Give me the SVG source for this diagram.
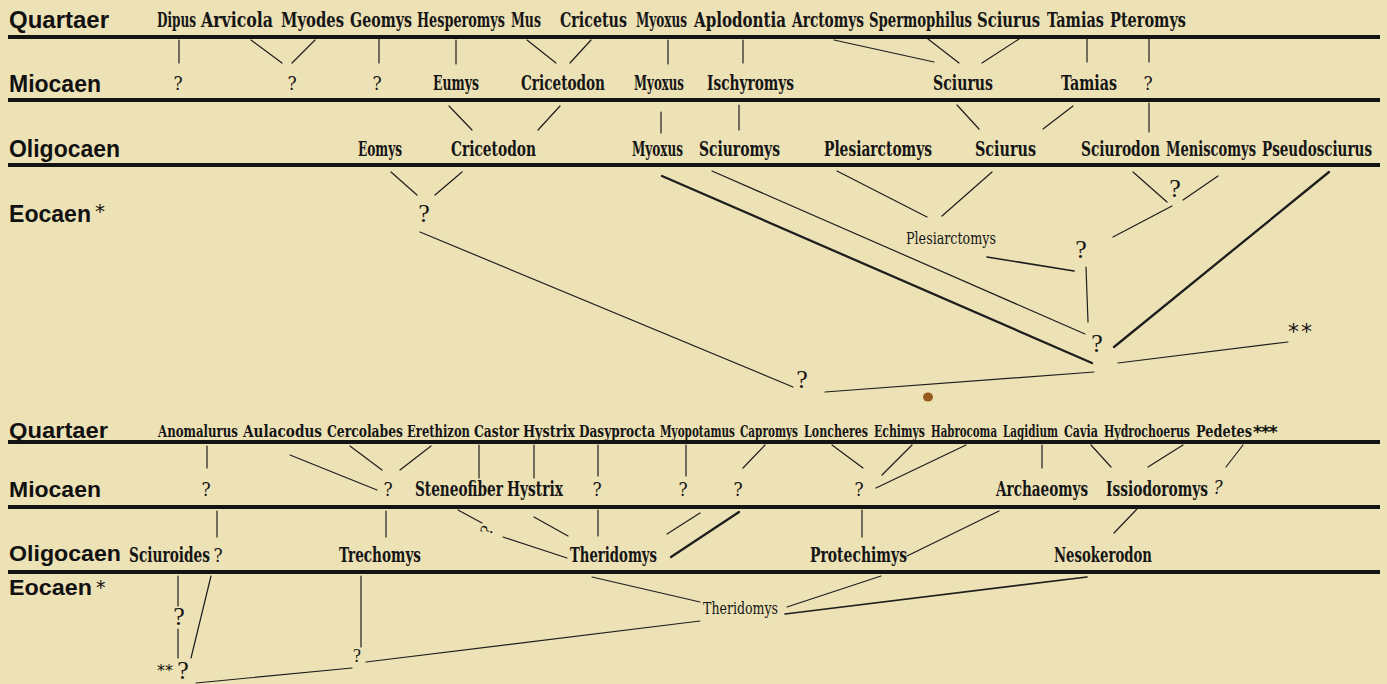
<svg xmlns="http://www.w3.org/2000/svg" width="1387" height="684" viewBox="0 0 1387 684">
<style>
.bg{fill:#ede2b5}
.bar{stroke:#141414;stroke-width:4}
.ln{stroke:#1e1e1e;stroke-width:1.2;fill:none;stroke-linecap:round}
.tk{stroke-width:2.3}
.md{stroke-width:1.7}
.era{font-family:"Liberation Sans",Arial,sans-serif;font-weight:bold;font-size:24px;fill:#111}
.era2{font-family:"Liberation Sans",Arial,sans-serif;font-weight:bold;font-size:22px;fill:#111}
.star{font-family:"DejaVu Sans","Liberation Sans",sans-serif;fill:#111}
.t{font-family:"DejaVu Serif Condensed","DejaVu Serif","Liberation Serif",serif;font-weight:bold;font-size:20px;fill:#151515}
.t2{font-family:"DejaVu Serif Condensed","DejaVu Serif","Liberation Serif",serif;font-weight:bold;font-size:16.5px;fill:#151515}
.t3{font-family:"DejaVu Serif Condensed","DejaVu Serif","Liberation Serif",serif;font-weight:bold;font-size:19.5px;fill:#151515}
.s{font-family:"DejaVu Serif Condensed","DejaVu Serif","Liberation Serif",serif;font-size:16px;fill:#151515}
.qm{font-family:"DejaVu Serif Condensed","DejaVu Serif","Liberation Serif",serif;font-size:19px;fill:#151515;text-anchor:middle}
.qb{font-family:"Liberation Serif","Times New Roman",serif;font-size:26px;fill:#151515;text-anchor:middle}
.qsm{font-family:"Liberation Serif","Times New Roman",serif;font-size:18px;fill:#151515;text-anchor:middle}
</style>
<rect class="bg" x="0" y="0" width="1387" height="684"/>

<g id="bars">
<line class="bar" x1="8" y1="37" x2="1380" y2="37"/>
<line class="bar" x1="8" y1="100" x2="1380" y2="100"/>
<line class="bar" x1="8" y1="165" x2="1380" y2="165"/>
<line class="bar" x1="8" y1="442" x2="1380" y2="442"/>
<line class="bar" x1="8" y1="507" x2="1380" y2="507"/>
<line class="bar" x1="8" y1="572" x2="1380" y2="572"/>
</g>

<g id="era-labels">
<text class="era" x="9" y="28" textLength="100" lengthAdjust="spacingAndGlyphs">Quartaer</text>
<text class="era" x="9" y="92" textLength="92" lengthAdjust="spacingAndGlyphs">Miocaen</text>
<text class="era" x="9" y="157" textLength="111" lengthAdjust="spacingAndGlyphs">Oligocaen</text>
<text class="era" x="9" y="222" textLength="82" lengthAdjust="spacingAndGlyphs">Eocaen</text>
<text class="star" x="95" y="218" font-size="20">*</text>
<text class="era2" x="9" y="438" textLength="99" lengthAdjust="spacingAndGlyphs">Quartaer</text>
<text class="era2" x="9" y="497" textLength="92" lengthAdjust="spacingAndGlyphs">Miocaen</text>
<text class="era2" x="9" y="561" textLength="112" lengthAdjust="spacingAndGlyphs">Oligocaen</text>
<text class="era2" x="9" y="595" textLength="83" lengthAdjust="spacingAndGlyphs">Eocaen</text>
<text class="star" x="96" y="594" font-size="19">*</text>
</g>

<g id="connectors">
<line class="ln" x1="179" y1="40" x2="179" y2="63"/>
<line class="ln" x1="251" y1="40" x2="282" y2="63"/>
<line class="ln" x1="315" y1="40" x2="292" y2="63"/>
<line class="ln" x1="379" y1="38" x2="379" y2="63"/>
<line class="ln" x1="456" y1="40" x2="456" y2="64"/>
<line class="ln" x1="527" y1="40" x2="556" y2="63"/>
<line class="ln" x1="591" y1="40" x2="570" y2="63"/>
<line class="ln" x1="668" y1="40" x2="668" y2="64"/>
<line class="ln" x1="743" y1="40" x2="743" y2="63"/>
<line class="ln" x1="834" y1="40" x2="934" y2="62"/>
<line class="ln" x1="928" y1="39" x2="959" y2="63"/>
<line class="ln" x1="1019" y1="39" x2="982" y2="63"/>
<line class="ln" x1="1087" y1="39" x2="1087" y2="62"/>
<line class="ln" x1="1149" y1="39" x2="1149" y2="62"/>
<line class="ln" x1="449" y1="106" x2="472" y2="130"/>
<line class="ln" x1="560" y1="106" x2="538" y2="130"/>
<line class="ln" x1="661" y1="112" x2="661" y2="133"/>
<line class="ln" x1="739" y1="105" x2="739" y2="130"/>
<line class="ln" x1="957" y1="105" x2="979" y2="129"/>
<line class="ln" x1="1073" y1="106" x2="1043" y2="129"/>
<line class="ln" x1="1149" y1="103" x2="1149" y2="132"/>
<line class="ln" x1="391" y1="172" x2="417" y2="195"/>
<line class="ln" x1="462" y1="172" x2="435" y2="195"/>
<line class="ln" x1="420" y1="232" x2="793" y2="387"/>
<line class="ln" x1="825" y1="392" x2="1094" y2="372"/>
<line class="ln tk" x1="662" y1="176" x2="1092" y2="363"/>
<line class="ln" x1="712" y1="171" x2="1085" y2="334"/>
<line class="ln" x1="837" y1="171" x2="927" y2="217"/>
<line class="ln" x1="992" y1="172" x2="942" y2="216"/>
<line class="ln md" x1="987" y1="257" x2="1074" y2="271"/>
<line class="ln" x1="1086" y1="267" x2="1088" y2="322"/>
<line class="ln" x1="1133" y1="172" x2="1167" y2="202"/>
<line class="ln" x1="1218" y1="176" x2="1183" y2="200"/>
<line class="ln" x1="1172" y1="206" x2="1113" y2="237"/>
<line class="ln tk" x1="1329" y1="172" x2="1114" y2="347"/>
<line class="ln" x1="1288" y1="342" x2="1118" y2="363"/>
<line class="ln" x1="207" y1="446" x2="207" y2="468"/>
<line class="ln" x1="290" y1="455" x2="377" y2="490"/>
<line class="ln" x1="350" y1="446" x2="382" y2="470"/>
<line class="ln" x1="431" y1="446" x2="400" y2="470"/>
<line class="ln" x1="479" y1="445" x2="479" y2="478"/>
<line class="ln" x1="534" y1="445" x2="534" y2="478"/>
<line class="ln" x1="598" y1="445" x2="598" y2="476"/>
<line class="ln" x1="686" y1="445" x2="686" y2="476"/>
<line class="ln" x1="765" y1="445" x2="743" y2="468"/>
<line class="ln" x1="832" y1="445" x2="863" y2="468"/>
<line class="ln" x1="912" y1="445" x2="882" y2="475"/>
<line class="ln" x1="966" y1="445" x2="876" y2="488"/>
<line class="ln" x1="1042" y1="445" x2="1042" y2="468"/>
<line class="ln" x1="1091" y1="445" x2="1111" y2="467"/>
<line class="ln" x1="1183" y1="445" x2="1148" y2="467"/>
<line class="ln" x1="1243" y1="445" x2="1226" y2="467"/>
<line class="ln" x1="217" y1="511" x2="217" y2="537"/>
<line class="ln" x1="386" y1="511" x2="386" y2="537"/>
<line class="ln" x1="458" y1="510" x2="482" y2="523"/>
<line class="ln" x1="503" y1="537" x2="567" y2="558"/>
<line class="ln" x1="534" y1="517" x2="568" y2="536"/>
<line class="ln" x1="598" y1="510" x2="598" y2="536"/>
<line class="ln" x1="700" y1="513" x2="667" y2="534"/>
<line class="ln tk" x1="739" y1="512" x2="671" y2="557"/>
<line class="ln" x1="862" y1="510" x2="862" y2="537"/>
<line class="ln" x1="999" y1="511" x2="907" y2="556"/>
<line class="ln" x1="1137" y1="509" x2="1114" y2="533"/>
<line class="ln" x1="178" y1="576" x2="178" y2="606"/>
<line class="ln" x1="178" y1="629" x2="178" y2="658"/>
<line class="ln" x1="211" y1="576" x2="191" y2="658"/>
<line class="ln" x1="361" y1="576" x2="361" y2="647"/>
<line class="ln" x1="196" y1="683" x2="352" y2="668"/>
<line class="ln" x1="366" y1="662" x2="700" y2="621"/>
<line class="ln" x1="592" y1="577" x2="700" y2="602"/>
<line class="ln" x1="881" y1="576" x2="787" y2="607"/>
<line class="ln md" x1="1087" y1="577" x2="785" y2="614"/>
</g>

<g id="upper-quartaer">
<g id="n-dipus"><text class="t" x="157" y="27" textLength="39" lengthAdjust="spacingAndGlyphs">Dipus</text></g>
<g id="n-arvicola"><text class="t" x="201" y="27" textLength="72" lengthAdjust="spacingAndGlyphs">Arvicola</text></g>
<g id="n-myodes"><text class="t" x="281" y="27" textLength="63" lengthAdjust="spacingAndGlyphs">Myodes</text></g>
<g id="n-geomys"><text class="t" x="350" y="27" textLength="62" lengthAdjust="spacingAndGlyphs">Geomys</text></g>
<g id="n-hesperomys"><text class="t" x="417" y="27" textLength="88" lengthAdjust="spacingAndGlyphs">Hesperomys</text></g>
<g id="n-mus"><text class="t" x="511" y="27" textLength="30" lengthAdjust="spacingAndGlyphs">Mus</text></g>
<g id="n-cricetus"><text class="t" x="560" y="27" textLength="67" lengthAdjust="spacingAndGlyphs">Cricetus</text></g>
<g id="n-myoxus-q"><text class="t" x="636" y="27" textLength="51" lengthAdjust="spacingAndGlyphs">Myoxus</text></g>
<g id="n-aplodontia"><text class="t" x="694" y="27" textLength="92" lengthAdjust="spacingAndGlyphs">Aplodontia</text></g>
<g id="n-arctomys"><text class="t" x="792" y="27" textLength="72" lengthAdjust="spacingAndGlyphs">Arctomys</text></g>
<g id="n-spermophilus"><text class="t" x="869" y="27" textLength="103" lengthAdjust="spacingAndGlyphs">Spermophilus</text></g>
<g id="n-sciurus-q"><text class="t" x="977" y="27" textLength="63" lengthAdjust="spacingAndGlyphs">Sciurus</text></g>
<g id="n-tamias-q"><text class="t" x="1047" y="27" textLength="57" lengthAdjust="spacingAndGlyphs">Tamias</text></g>
<g id="n-pteromys"><text class="t" x="1110" y="27" textLength="76" lengthAdjust="spacingAndGlyphs">Pteromys</text></g>
</g>

<g id="upper-miocaen">
<g id="n-m-q1"><text class="qm" x="178" y="90">?</text></g>
<g id="n-m-q2"><text class="qm" x="292" y="90">?</text></g>
<g id="n-m-q3"><text class="qm" x="377" y="90">?</text></g>
<g id="n-eumys"><text class="t" x="433" y="90" textLength="46" lengthAdjust="spacingAndGlyphs">Eumys</text></g>
<g id="n-cricetodon-m"><text class="t" x="521" y="90" textLength="84" lengthAdjust="spacingAndGlyphs">Cricetodon</text></g>
<g id="n-myoxus-m"><text class="t" x="634" y="90" textLength="50" lengthAdjust="spacingAndGlyphs">Myoxus</text></g>
<g id="n-ischyromys"><text class="t" x="707" y="90" textLength="87" lengthAdjust="spacingAndGlyphs">Ischyromys</text></g>
<g id="n-sciurus-m"><text class="t" x="933" y="90" textLength="60" lengthAdjust="spacingAndGlyphs">Sciurus</text></g>
<g id="n-tamias-m"><text class="t" x="1061" y="90" textLength="56" lengthAdjust="spacingAndGlyphs">Tamias</text></g>
<g id="n-m-q4"><text class="qm" x="1148" y="90">?</text></g>
</g>

<g id="upper-oligocaen">
<g id="n-eomys"><text class="t" x="358" y="156" textLength="44" lengthAdjust="spacingAndGlyphs">Eomys</text></g>
<g id="n-cricetodon-o"><text class="t" x="451" y="156" textLength="85" lengthAdjust="spacingAndGlyphs">Cricetodon</text></g>
<g id="n-myoxus-o"><text class="t" x="632" y="156" textLength="51" lengthAdjust="spacingAndGlyphs">Myoxus</text></g>
<g id="n-sciuromys"><text class="t" x="699" y="156" textLength="81" lengthAdjust="spacingAndGlyphs">Sciuromys</text></g>
<g id="n-plesiarctomys-o"><text class="t" x="824" y="156" textLength="108" lengthAdjust="spacingAndGlyphs">Plesiarctomys</text></g>
<g id="n-sciurus-o"><text class="t" x="975" y="156" textLength="61" lengthAdjust="spacingAndGlyphs">Sciurus</text></g>
<g id="n-sciurodon"><text class="t" x="1081" y="156" textLength="79" lengthAdjust="spacingAndGlyphs">Sciurodon</text></g>
<g id="n-meniscomys"><text class="t" x="1166" y="156" textLength="90" lengthAdjust="spacingAndGlyphs">Meniscomys</text></g>
<g id="n-pseudosciurus"><text class="t" x="1262" y="156" textLength="110" lengthAdjust="spacingAndGlyphs">Pseudosciurus</text></g>
</g>

<g id="upper-eocaen">
<g id="n-e-q1"><text class="qb" x="424" y="222">?</text></g>
<g id="n-e-q2"><text class="qb" x="1175" y="197">?</text></g>
<g id="n-plesiarctomys-e"><text class="s" x="906" y="244" textLength="90" lengthAdjust="spacingAndGlyphs">Plesiarctomys</text></g>
<g id="n-e-q3"><text class="qb" x="1081" y="258">?</text></g>
<g id="n-e-q4"><text class="qb" x="1097" y="352">?</text></g>
<g id="n-e-q5"><text class="qb" x="802" y="388">?</text></g>
<g id="n-e-stars"><text class="star" x="1288" y="339" font-size="22" letter-spacing="2">**</text></g>
</g>

<g id="lower-quartaer">
<g id="n-anomalurus"><text class="t2" x="158" y="437" textLength="80" lengthAdjust="spacingAndGlyphs">Anomalurus</text></g>
<g id="n-aulacodus"><text class="t2" x="243" y="437" textLength="79" lengthAdjust="spacingAndGlyphs">Aulacodus</text></g>
<g id="n-cercolabes"><text class="t2" x="327" y="437" textLength="76" lengthAdjust="spacingAndGlyphs">Cercolabes</text></g>
<g id="n-erethizon"><text class="t2" x="407" y="437" textLength="63" lengthAdjust="spacingAndGlyphs">Erethizon</text></g>
<g id="n-castor"><text class="t2" x="474" y="437" textLength="45" lengthAdjust="spacingAndGlyphs">Castor</text></g>
<g id="n-hystrix-q"><text class="t2" x="523" y="437" textLength="52" lengthAdjust="spacingAndGlyphs">Hystrix</text></g>
<g id="n-dasyprocta"><text class="t2" x="579" y="437" textLength="76" lengthAdjust="spacingAndGlyphs">Dasyprocta</text></g>
<g id="n-myopotamus"><text class="t2" x="660" y="437" textLength="75" lengthAdjust="spacingAndGlyphs">Myopotamus</text></g>
<g id="n-capromys"><text class="t2" x="740" y="437" textLength="58" lengthAdjust="spacingAndGlyphs">Capromys</text></g>
<g id="n-loncheres"><text class="t2" x="804" y="437" textLength="64" lengthAdjust="spacingAndGlyphs">Loncheres</text></g>
<g id="n-echimys"><text class="t2" x="874" y="437" textLength="51" lengthAdjust="spacingAndGlyphs">Echimys</text></g>
<g id="n-habrocoma"><text class="t2" x="931" y="437" textLength="66" lengthAdjust="spacingAndGlyphs">Habrocoma</text></g>
<g id="n-lagidium"><text class="t2" x="1003" y="437" textLength="55" lengthAdjust="spacingAndGlyphs">Lagidium</text></g>
<g id="n-cavia"><text class="t2" x="1064" y="437" textLength="34" lengthAdjust="spacingAndGlyphs">Cavia</text></g>
<g id="n-hydrochoerus"><text class="t2" x="1104" y="437" textLength="86" lengthAdjust="spacingAndGlyphs">Hydrochoerus</text></g>
<g id="n-pedetes"><text class="t2" x="1196" y="437" textLength="56" lengthAdjust="spacingAndGlyphs">Pedetes</text><text class="star" x="1253" y="438" font-size="17" font-weight="bold" letter-spacing="-1">***</text></g>
</g>

<g id="lower-miocaen">
<g id="n-lm-q1"><text class="qm" x="206" y="496">?</text></g>
<g id="n-lm-q2"><text class="qm" x="388" y="496">?</text></g>
<g id="n-steneofiber"><text class="t3" x="415" y="496" textLength="88" lengthAdjust="spacingAndGlyphs">Steneofiber</text></g>
<g id="n-hystrix-m"><text class="t3" x="507" y="496" textLength="56" lengthAdjust="spacingAndGlyphs">Hystrix</text></g>
<g id="n-lm-q3"><text class="qm" x="597" y="496">?</text></g>
<g id="n-lm-q4"><text class="qm" x="683" y="496">?</text></g>
<g id="n-lm-q5"><text class="qm" x="738" y="496">?</text></g>
<g id="n-lm-q6"><text class="qm" x="859" y="496">?</text></g>
<g id="n-archaeomys"><text class="t3" x="996" y="496" textLength="92" lengthAdjust="spacingAndGlyphs">Archaeomys</text></g>
<g id="n-issiodoromys"><text class="t3" x="1106" y="496" textLength="102" lengthAdjust="spacingAndGlyphs">Issiodoromys</text><text class="qm" x="1218" y="494" font-style="italic">?</text></g>
<g id="n-lm-side-q"><text class="qsm" transform="translate(492 532) rotate(-70)">?</text></g>
</g>

<g id="lower-oligocaen">
<g id="n-sciuroides"><text class="t3" x="129" y="562" textLength="81" lengthAdjust="spacingAndGlyphs">Sciuroides</text><text class="qm" x="218" y="562">?</text></g>
<g id="n-trechomys"><text class="t3" x="339" y="562" textLength="82" lengthAdjust="spacingAndGlyphs">Trechomys</text></g>
<g id="n-theridomys-o"><text class="t3" x="570" y="562" textLength="87" lengthAdjust="spacingAndGlyphs">Theridomys</text></g>
<g id="n-protechimys"><text class="t3" x="810" y="562" textLength="97" lengthAdjust="spacingAndGlyphs">Protechimys</text></g>
<g id="n-nesokerodon"><text class="t3" x="1054" y="562" textLength="98" lengthAdjust="spacingAndGlyphs">Nesokerodon</text></g>
</g>

<g id="lower-eocaen">
<g id="n-le-q1"><text class="qb" x="179" y="625">?</text></g>
<g id="n-le-q2"><text class="star" x="157" y="676" font-size="16">**</text><text class="qb" x="183" y="679" font-size="23">?</text></g>
<g id="n-le-q3"><text class="qsm" x="357" y="662">?</text></g>
<g id="n-theridomys-e"><text class="s" x="703" y="614" textLength="75" lengthAdjust="spacingAndGlyphs">Theridomys</text></g>
</g>

<g id="stain"><ellipse cx="928" cy="397" rx="5" ry="4.5" fill="#9a5a1c"/></g>
</svg>
